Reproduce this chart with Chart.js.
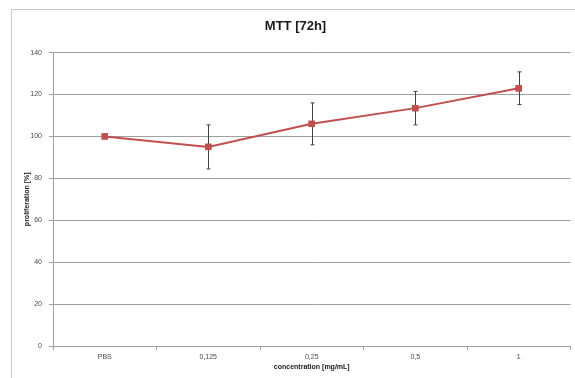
<!DOCTYPE html>
<html>
<head>
<meta charset="utf-8">
<script src="https://cdn.jsdelivr.net/npm/chart.js@4"></script>
<style>
body{margin:0;background:#fff;}
#wrap{width:575px;height:378px;position:relative;}
</style>
</head>
<body>
<div id="wrap"><canvas id="c"></canvas></div>
<script>
// values
const categories=["PBS","0,125","0,25","0,5","1"];
const proliferation=[100,95,106,113.5,123];
const errors=[0,10.5,10,8,7.8];
const yTicks=[0,20,40,60,80,100,120,140];

const red='#C0504D';
const font="'Liberation Sans', Arial, sans-serif";

// frame like the excel chart border
const frame={
    id:'frame',
    beforeDraw(chart){
        const ctx=chart.ctx;
        ctx.save();
        ctx.strokeStyle='#c8c8c8';
        ctx.lineWidth=1;
        ctx.beginPath();
        ctx.moveTo(11.5,378);
        ctx.lineTo(11.5,9.5);
        ctx.lineTo(575,9.5);
        ctx.stroke();
        ctx.restore();
    }
};

// error bars drawn through the scales
const errorBars={
    id:'errorBars',
    afterDatasetsDraw(chart){
        const ctx=chart.ctx;
        const x=chart.scales.x, y=chart.scales.y;
        ctx.save();
        ctx.strokeStyle='#404040';
        ctx.lineWidth=1;
        for(let i=0;i<proliferation.length;i++){
            if(!errors[i]) continue;
            const px=Math.round(x.getPixelForValue(i))+0.5;
            const top=y.getPixelForValue(proliferation[i]+errors[i]);
            const bot=y.getPixelForValue(proliferation[i]-errors[i]);
            ctx.beginPath();
            ctx.moveTo(px,top);ctx.lineTo(px,bot);
            ctx.moveTo(px-2,top);ctx.lineTo(px+2,top);
            ctx.moveTo(px-2,bot);ctx.lineTo(px+2,bot);
            ctx.stroke();
        }
        ctx.restore();
        // markers back on top of the bars
        const meta=chart.getDatasetMeta(0);
        meta.data.forEach(p=>p.draw(ctx));
    }
};

new Chart(document.getElementById('c'),{
    type:'line',
    data:{
        labels:categories,
        datasets:[{
            label:'MTT',
            data:proliferation,
            borderColor:red,
            backgroundColor:red,
            borderWidth:2,
            pointStyle:'rect',
            pointRadius:4.5,
            pointBorderWidth:0,
            tension:0
        }]
    },
    options:{
        responsive:true,
        maintainAspectRatio:false,
        animation:false,
        layout:{padding:{left:20,right:4,top:0,bottom:0}},
        plugins:{
            legend:{display:false},
            tooltip:{enabled:false},
            title:{
                display:true,
                text:'MTT [72h]',
                color:'#1a1a1a',
                font:{family:font,size:13,weight:'bold'},
                padding:{top:19,bottom:18}
            }
        },
        scales:{
            x:{
                offset:true,
                afterFit(s){s.height=32;},
                grid:{offset:true,drawOnChartArea:false,drawTicks:true,tickLength:4,color:'#a0a0a0'},
                border:{color:'#a0a0a0'},
                ticks:{color:'#4a4a4a',font:{family:font,size:7},padding:3},
                title:{display:true,text:'concentration [mg/mL]',color:'#1a1a1a',font:{family:font,size:7,weight:'bold'},padding:{top:3,bottom:7}}
            },
            y:{
                min:0,max:140,
                afterBuildTicks(s){s.ticks=yTicks.map(v=>({value:v}));},
                afterFit(s){s.width=33;},
                grid:{color:'#a0a0a0',tickLength:4},
                border:{color:'#a0a0a0'},
                ticks:{color:'#4a4a4a',font:{family:font,size:7},padding:7},
                title:{display:true,text:'proliferation [%]',color:'#1a1a1a',font:{family:font,size:7,weight:'bold'},padding:{top:3,bottom:0}}
            }
        }
    },
    plugins:[frame,errorBars]
});
</script>
</body>
</html>
